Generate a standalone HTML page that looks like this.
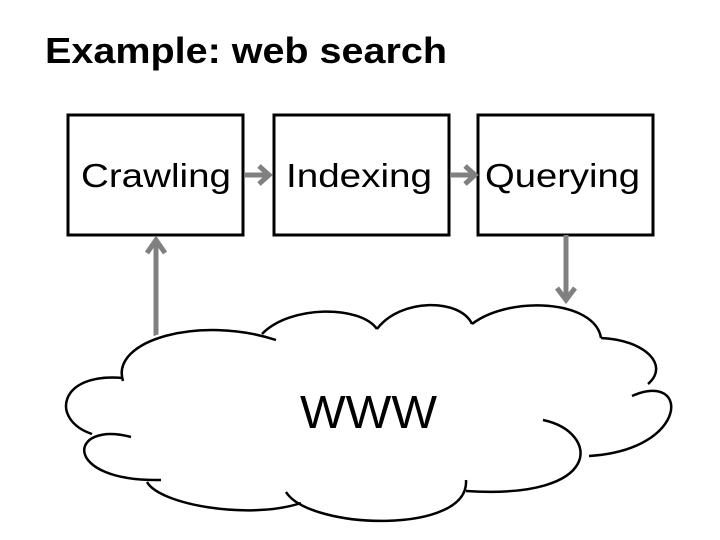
<!DOCTYPE html>
<html><head><meta charset="utf-8"><style>
html,body{margin:0;padding:0;background:#fff;}
svg{display:block;}
text{font-family:"Liberation Sans",Arial,sans-serif;}
</style></head><body>
<svg width="720" height="540" viewBox="0 0 720 540" xmlns="http://www.w3.org/2000/svg">
<rect width="720" height="540" fill="#fff"/>
<text x="45" y="63" font-size="36" font-weight="bold" textLength="402" lengthAdjust="spacingAndGlyphs">Example: web search</text>

<g fill="none" stroke="#000" stroke-width="3">
<rect x="68" y="115" width="175" height="120"/>
<rect x="274" y="115" width="175" height="120"/>
<rect x="478" y="115" width="175" height="120"/>
</g>
<g font-size="33">
<text x="81" y="187" textLength="150" lengthAdjust="spacingAndGlyphs">Crawling</text>
<text x="286" y="187" textLength="146" lengthAdjust="spacingAndGlyphs">Indexing</text>
<text x="485" y="187" textLength="155" lengthAdjust="spacingAndGlyphs">Querying</text>
</g>

<g stroke="#808080" stroke-width="5" fill="none">
<line x1="245" y1="175" x2="268" y2="175"/>
<polyline points="259,166 269,175 259,184"/>
<line x1="451" y1="175" x2="474" y2="175"/>
<polyline points="465,166 475,175 465,184"/>
<line x1="156" y1="340" x2="156" y2="240"/>
<polyline points="147,253 156,240 165,253"/>
<line x1="566" y1="235" x2="566" y2="300"/>
<polyline points="557,288 566,300 575,288"/>
</g>

<path d="M123,381 C105,345 170,315 262,334 C290,305 360,305 377,329 C400,298 460,298 472,324 C510,295 595,300 601,338 C650,338 672,365 648,384 C690,390 690,450 589,456 C600,480 540,505 466,491 C460,530 320,530 286,492 C250,520 160,505 147,482 C60,480 70,425 92,434 C50,420 60,370 123,381 Z" fill="#fff" stroke="none"/>
<g fill="none" stroke="#000" stroke-width="2.5">
<path d="M123,381 C110,340 200,315 276,340"/>
<path d="M262,334 C290,305 360,305 377,329"/>
<path d="M377,329 C400,298 460,298 472,324"/>
<path d="M472,324 C510,295 595,300 601,338"/>
<path d="M601,338 C645,340 670,365 648,384"/>
<path d="M632,396 C690,370 690,450 589,456"/>
<path d="M543,420 C600,432 605,500 466,491"/>
<path d="M466,480 C470,535 310,530 286,492"/>
<path d="M301,503 C250,520 160,505 147,482"/>
<path d="M161,480 C60,482 68,420 131,437"/>
<path d="M92,434 C50,420 58,372 123,378"/>
</g>
<text x="300" y="428" font-size="46" textLength="137" lengthAdjust="spacingAndGlyphs">WWW</text>
</svg>
</body></html>
